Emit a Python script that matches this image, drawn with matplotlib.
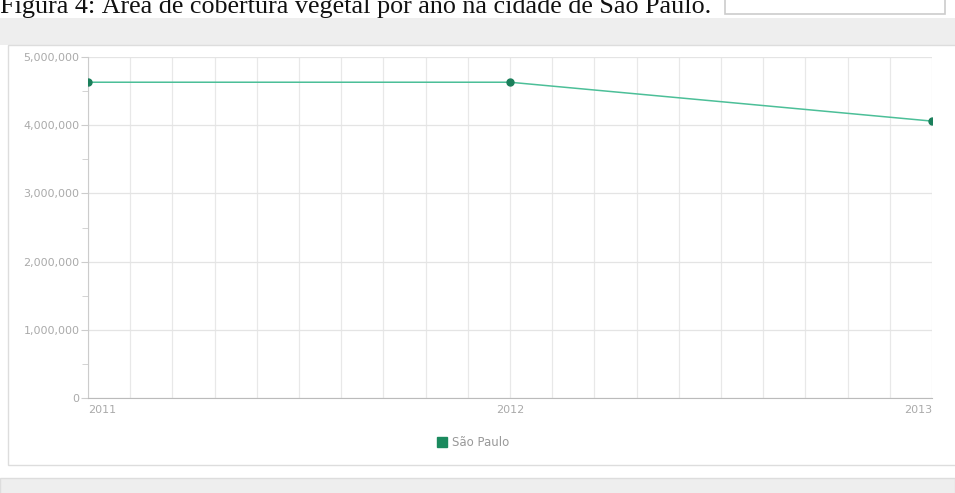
import matplotlib.pyplot as plt
from matplotlib.patches import Rectangle
from matplotlib.lines import Line2D
from matplotlib.ticker import FuncFormatter, MultipleLocator

# data
years = [2011, 2012, 2013]
area = [4630000, 4630000, 4060000]
series_name = 'São Paulo'
caption = 'Figura 4: Área de cobertura vegetal por ano na cidade de São Paulo.'

W, H = 955, 493
fig = plt.figure(figsize=(W / 100, H / 100), dpi=100)


def box(x0, y0, x1, y1, **kw):
    # rectangle given in pixels from the top-left corner, kept behind the axes
    fig.patches.append(Rectangle((x0 / W, 1 - y1 / H), (x1 - x0) / W, (y1 - y0) / H,
                                 transform=fig.transFigure, figure=fig, zorder=-5, **kw))


# page chrome around the chart
box(0, 18, 955, 45, facecolor='#eeeeee', edgecolor='none')
box(725, -5, 945, 14, facecolor='white', edgecolor='#cccccc', lw=1.2)
box(8, 45, 965, 465, facecolor='white', edgecolor='#dddddd', lw=1)
box(0, 478, 955, 500, facecolor='#eeeeee', edgecolor='#dddddd', lw=1)

fig.text(0, 1 - 13 / H, caption, family='Liberation Serif', fontsize=18.8,
         color='#111111', va='baseline', ha='left')

ax = fig.add_axes([88 / W, 1 - 398 / H, (932 - 88) / W, (398 - 57) / H])
ax.set_facecolor('none')

ax.plot(years, area, color='#4cbf98', lw=1.1, zorder=3)
ax.plot(years, area, 'o', color='#1b7f5b', ms=5, zorder=4)

ax.set_xlim(2011, 2013)
ax.set_ylim(0, 5000000)
ax.set_xticks(years, [str(y) for y in years])
ax.xaxis.set_minor_locator(MultipleLocator(0.1))
ax.yaxis.set_major_locator(MultipleLocator(1000000))
ax.yaxis.set_minor_locator(MultipleLocator(500000))
ax.yaxis.set_major_formatter(FuncFormatter(lambda v, p: f'{v:,.0f}'))

ax.grid(True, which='major', axis='y', color='#e4e4e4', lw=0.9)
ax.grid(True, which='both', axis='x', color='#e8e8e8', lw=0.9)
ax.set_axisbelow(True)

for side in ['top', 'right']:
    ax.spines[side].set_visible(False)
ax.spines['left'].set_color('#cccccc')
ax.spines['bottom'].set_color('#bbbbbb')

ax.tick_params(axis='y', which='major', length=5, color='#cccccc', labelsize=8,
               labelcolor='#aaaaaa', pad=1)
ax.tick_params(axis='y', which='minor', length=4, color='#cccccc')
ax.tick_params(axis='x', which='both', length=0, labelsize=8, labelcolor='#aaaaaa', pad=5)
xl = ax.get_xticklabels()
xl[0].set_ha('left')
xl[-1].set_ha('right')

handle = Line2D([], [], marker='s', ls='none', color='#1b8a5e', ms=7)
leg = fig.legend([handle], [series_name], loc='center', bbox_to_anchor=(472 / W, 1 - 443 / H),
                 frameon=False, fontsize=8.5, handletextpad=0.3, handlelength=1.2)
for t in leg.get_texts():
    t.set_color('#999999')

fig.savefig('out.png', dpi=100)
